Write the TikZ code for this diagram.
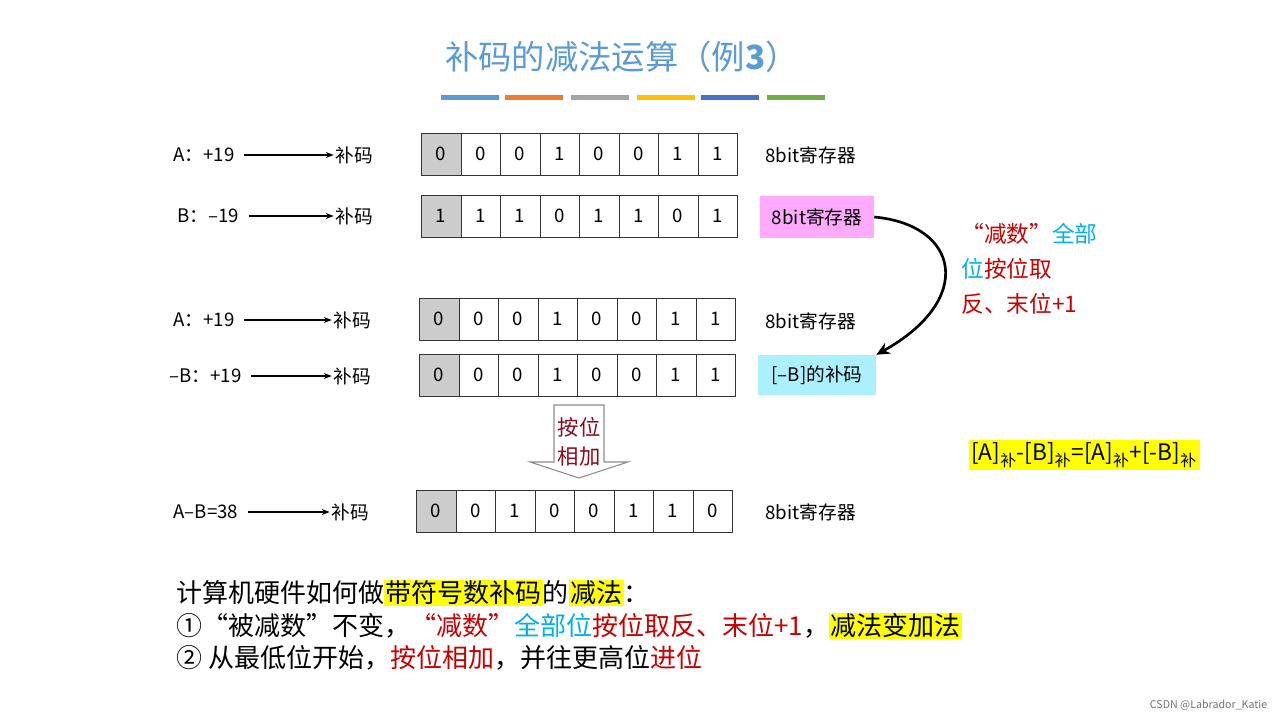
\documentclass[tikz,border=0pt]{standalone}
\usepackage{fontspec}
\setmainfont{Noto Sans CJK SC}
\usetikzlibrary{shapes.arrows,arrows.meta}
\definecolor{ttl}{RGB}{91,155,213}
\definecolor{rd}{RGB}{200,0,0}
\definecolor{bl}{RGB}{0,176,240}
\definecolor{mr}{RGB}{140,10,30}
\definecolor{yl}{RGB}{255,255,0}
\definecolor{pk}{RGB}{255,170,255}
\definecolor{cy}{RGB}{170,240,255}
\newcommand{\hl}[1]{{\setlength{\fboxsep}{1pt}\colorbox{yl}{#1}}}
\tikzset{
 cell/.style={draw=black!80,line width=0.6pt,minimum width=39.5*0.75pt,minimum height=42*0.75pt,inner sep=0,font=\fontsize{14}{16}\selectfont,anchor=west},
 lbl/.style={font=\fontsize{14}{16}\selectfont,inner sep=1pt},
 arr/.style={-{Stealth[length=6pt]},line width=0.8pt},
}
\begin{document}
\begin{tikzpicture}[x=0.75pt,y=-0.75pt]
\useasboundingbox (0,0) rectangle (1280,717);
\node[font=\fontsize{25}{28}\selectfont,text=ttl] (title) at (622,57) {补码的减法运算（例\textbf{3}）};
\foreach \x/\c in {441/5B9BD5,505/ED7D31,571/A5A5A5,637/FFC000,701/4472C4,767/70AD47}{
 \definecolor{tmp}{HTML}{\c}\fill[tmp] (\x,95) rectangle ++(58,5);}
% rows
\foreach \r/\x/\y/\bits in {a/421/154/{0,0,0,1,0,0,1,1},b/421/216/{1,1,1,0,1,1,0,1},c/419/319/{0,0,0,1,0,0,1,1},d/419/375/{0,0,0,1,0,0,1,1},e/416/511/{0,0,1,0,0,1,1,0}}{
 \foreach \v [count=\i] in \bits {
  \ifnum\i=1 \node[cell,fill=black!20] (\r\i) at ({\x+(\i-1)*39.5},\y) {\v};
  \else \node[cell] (\r\i) at ({\x+(\i-1)*39.5},\y) {\v};\fi }}
% left labels
\node[lbl,anchor=west] (la) at (172,155) {A：+19};
\node[lbl,anchor=west] (lb) at (176,216) {B：–19};
\node[lbl,anchor=west] (lc) at (172,320) {A：+19};
\node[lbl,anchor=west] (ld) at (168,376) {–B：+19};
\node[lbl,anchor=west] (le) at (172,512) {A–B=38};
\node[lbl] (ba) at (354,155) {补码};
\node[lbl] (bb) at (354,216) {补码};
\node[lbl] (bc) at (352,320) {补码};
\node[lbl] (bd) at (352,376) {补码};
\node[lbl] (be) at (350,512) {补码};
\draw[arr] (la.east)+(8,0) -- (ba.west);
\draw[arr] (lb.east)+(8,0) -- (bb.west);
\draw[arr] (lc.east)+(8,0) -- (bc.west);
\draw[arr] (ld.east)+(8,0) -- (bd.west);
\draw[arr] (le.east)+(8,0) -- (be.west);
% right labels
\node[lbl,anchor=west] (ra) at (764,155) {8bit寄存器};
\node[lbl,fill=pk,minimum width=114*0.75pt,minimum height=42*0.75pt] (rb) at (817,217) {8bit寄存器};
\node[lbl,anchor=west] (rc) at (764,321) {8bit寄存器};
\node[lbl,fill=cy,minimum width=118*0.75pt,minimum height=40*0.75pt] (rd) at (817,375) {[–B]的补码};
\node[lbl,anchor=west] (re) at (764,512) {8bit寄存器};
\draw[-{Stealth[length=10pt,width=9pt]},line width=2pt] (rb.east) .. controls (960,225) and (975,300) .. (rd.north east);
\node[lbl,align=left,anchor=north west,font=\fontsize{17}{26}\selectfont] (note) at (960,222) {\textcolor{rd}{“减数”}\textcolor{bl}{全部}\\\textcolor{bl}{位}\textcolor{rd}{按位取}\\\textcolor{rd}{反、末位+1}};
% block arrow
\draw[draw=black!45,fill=white,line width=0.8pt] (554,405) -- (604,405) -- (604,462) -- (628,462) -- (579,478) -- (530,462) -- (554,462) -- cycle;
\node[lbl,text=mr,align=center,font=\fontsize{16}{22}\selectfont] (add) at (579,442) {按位\\相加};
% formula
\node[fill=yl,inner sep=2pt,font=\fontsize{17}{20}\selectfont] (form) at (1084,455) {[A]\textsubscript{补}-[B]\textsubscript{补}=[A]\textsubscript{补}+[-B]\textsubscript{补}};
% bottom text
\node[anchor=west,font=\fontsize{19.5}{22}\selectfont,inner sep=0] (t1) at (176,593) {计算机硬件如何做\hl{带符号数补码}的\hl{减法}：};
\node[anchor=west,font=\fontsize{19.5}{22}\selectfont,inner sep=0] (t2) at (176,626) {①“被减数”不变，\textcolor{rd}{“减数”}\textcolor{bl}{全部位}\textcolor{rd}{按位取反、末位+1}，\hl{减法变加法}};
\node[anchor=west,font=\fontsize{19.5}{22}\selectfont,inner sep=0] (t3) at (176,658) {② 从最低位开始，\textcolor{rd}{按位相加}，并往更高位\textcolor{rd}{进位}};
\node[anchor=east,font=\fontsize{8}{9}\selectfont,text=black!55] (wm) at (1272,705) {CSDN @Labrador\_Katie};
\end{tikzpicture}
\end{document}
